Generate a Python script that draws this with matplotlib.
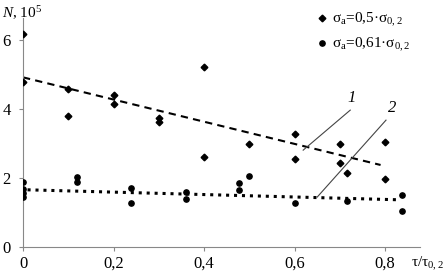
import matplotlib
matplotlib.use("Agg")
import matplotlib.pyplot as plt

plt.rcParams['font.family'] = ['Liberation Serif', 'DejaVu Serif']
plt.rcParams['mathtext.fontset'] = 'custom'
plt.rcParams['mathtext.rm'] = 'Liberation Serif'
plt.rcParams['mathtext.it'] = 'Liberation Serif:italic'

# Series 1: sigma_a = 0.5 * sigma_0.2
x1 = [0, 0, 0.1, 0.1, 0.2, 0.2, 0.3, 0.3, 0.4, 0.4, 0.5, 0.6, 0.6, 0.7, 0.7, 0.716, 0.8, 0.8]
y1 = [6.17, 4.78, 4.58, 3.80, 4.40, 4.14, 3.74, 3.62, 5.22, 2.61, 3.00, 3.28, 2.55, 2.99, 2.43, 2.14, 3.04, 1.97]

# Series 2: sigma_a = 0.61 * sigma_0.2
x2 = [0, 0, 0, 0, 0.12, 0.12, 0.239, 0.239, 0.36, 0.36, 0.477, 0.477, 0.5, 0.6, 0.716, 0.838, 0.838]
y2 = [1.88, 1.68, 1.56, 1.45, 2.03, 1.88, 1.71, 1.27, 1.60, 1.39, 1.85, 1.65, 2.06, 1.27, 1.33, 1.50, 1.04]

# Trend lines
trend1_x = [0, 0.79]
trend1_y = [4.92, 2.38]
trend2_x = [0.01, 0.833]
trend2_y = [1.66, 1.37]

# Callout lines
call1_x = [0.723, 0.619]
call1_y = [3.97, 2.81]
call2_x = [0.802, 0.65]
call2_y = [3.68, 1.45]

xticks = [0, 0.2, 0.4, 0.6, 0.8]
xtick_labels = ["0", "0,2", "0,4", "0,6", "0,8"]
yticks = [0, 2, 4, 6]
ytick_labels = ["0", "2", "4", "6"]

fig = plt.figure(figsize=(4.46, 2.77), dpi=100)
ax = fig.add_axes([0.0516, 0.108, 0.89, 0.827])

ax.plot(x1, y1, linestyle='none', marker='D', markersize=3.4, color='black',
        label=r'σ$_\mathrm{a}$=0,5·σ$_{0,2}$', zorder=3)
ax.plot(x2, y2, linestyle='none', marker='o', markersize=3.8, color='black',
        label=r'σ$_\mathrm{a}$=0,61·σ$_{0,2}$', zorder=3)

ax.plot(trend1_x, trend1_y, linestyle=(0, (3.5, 2.5)), color='black', linewidth=1.5)
ax.plot(trend2_x, trend2_y, linestyle=(0, (1, 1.6)), color='black', linewidth=2.2)

ax.plot(call1_x, call1_y, color='#444444', linewidth=0.8)
ax.plot(call2_x, call2_y, color='#444444', linewidth=0.8)
ax.text(0.727, 4.08, '1', fontsize=12, style='italic', ha='center', va='bottom')
ax.text(0.815, 3.80, '2', fontsize=12, style='italic', ha='center', va='bottom')

ax.set_xlim(0, 0.877)
ax.set_ylim(0, 6.64)
ax.set_xticks(xticks)
ax.set_xticklabels(xtick_labels)
ax.set_yticks(yticks)
ax.set_yticklabels(ytick_labels)
ax.tick_params(axis='both', labelsize=12, length=3, color='#888888', width=0.8)
ax.tick_params(axis='y', pad=6)

for s in ['top', 'right']:
    ax.spines[s].set_visible(False)
for s in ['left', 'bottom']:
    ax.spines[s].set_color('#888888')
    ax.spines[s].set_linewidth(0.8)

ax.legend(loc='upper right', bbox_to_anchor=(1.0, 1.07), frameon=False, fontsize=11,
          handlelength=0.6, handletextpad=0.4, labelspacing=0.45, borderaxespad=0.2)

fig.text(0.005, 0.985, r'$N$, 10$^5$', fontsize=11, ha='left', va='top')
fig.text(0.995, 0.015, r'τ/τ$_{0,2}$', fontsize=11, ha='right', va='bottom')

fig.savefig('out.png', dpi=100)
